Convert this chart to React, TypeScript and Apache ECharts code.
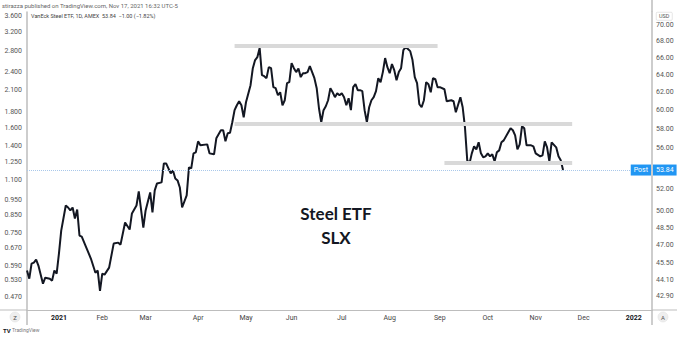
import React, { useEffect, useRef } from "react";
import * as echarts from "echarts";

// trading-day index (0 = first session of 2021) and daily close, USD
const tradingDay = [
  -14, -13, -12, -11, -10, -9, -7, -6, -4, -3, -2, -1, 0, 1, 3, 4, 5, 6, 7, 8, 9, 10, 12, 14, 16, 17, 18, 19, 20, 22,
  24, 26, 27, 29, 31, 32, 34, 35, 37, 38, 40, 41, 42, 43, 45, 46, 47, 49, 50, 51, 52, 53, 54, 56, 57, 58, 59, 60, 61,
  62, 65, 66, 68, 69, 71, 72, 73, 74, 75, 76, 77, 78, 79, 80, 81, 82, 84, 85, 86, 87, 88, 89, 90, 91, 92, 93, 94, 95,
  96, 97, 98, 99, 100, 101, 102, 103, 104, 105, 106, 107, 108, 109, 110, 111, 112, 113, 114, 115, 116, 117, 118, 119,
  120, 121, 122, 123, 124, 125, 126, 127, 128, 129, 130, 131, 132, 133, 134, 135, 136, 137, 138, 139, 140, 141, 142,
  143, 144, 145, 146, 147, 148, 149, 150, 151, 152, 153, 154, 155, 156, 157, 158, 159, 160, 161, 162, 163, 164, 165,
  166, 167, 169, 170, 172, 173, 174, 176, 177, 178, 179, 180, 181, 182, 183, 184, 185, 186, 187, 188, 189, 190, 191,
  192, 193, 194, 195, 197, 198, 199, 200, 201, 202, 203, 204, 205, 207, 208, 209, 211, 212, 213, 214, 215, 216, 218,
  219, 220, 221,
];
const closePrice = [
  44.88, 44.23, 45.45, 45.53, 45.78, 45.29, 43.83, 44.31, 44.23, 44.07, 44.88, 44.63, 46.28, 48.25, 50.49, 50.31, 50.04,
  50.31, 49.32, 50.13, 47.82, 47.73, 46.79, 45.87, 44.71, 44.88, 43.27, 44.63, 44.55, 45.12, 47.13, 47.21, 47.04, 48.96,
  48.34, 49.77, 50.49, 51.79, 48.52, 50.04, 51.7, 49.86, 51.89, 52.55, 52.65, 54.49, 54.49, 53.51, 53.8, 53.03, 52.84,
  52.17, 50.31, 51.42, 54.1, 54.0, 55.49, 55.59, 56.71, 56.3, 56.4, 55.49, 55.39, 57.02, 57.86, 57.86, 56.71, 57.54,
  57.6, 58.7, 60.0, 60.54, 60.98, 60.54, 59.24, 60.87, 62.78, 64.74, 65.7, 66.05, 67.14, 63.93, 63.81, 63.58, 64.86,
  64.74, 62.55, 62.44, 61.65, 61.98, 60.54, 61.09, 63.01, 63.12, 65.34, 64.74, 64.28, 64.7, 63.7, 64.16, 64.16, 64.28,
  64.98, 64.28, 63.58, 62.44, 60.21, 58.7, 60.0, 60.43, 61.09, 62.44, 61.98, 61.43, 61.87, 61.65, 61.87, 61.43, 60.54,
  61.31, 60.0, 62.55, 62.89, 62.21, 62.21, 62.1, 60.0, 58.7, 60.32, 61.09, 61.43, 62.1, 63.58, 63.12, 64.28, 65.93,
  64.86, 64.16, 65.22, 64.51, 63.35, 64.28, 64.74, 66.89, 67.26, 67.02, 66.77, 65.7, 63.7, 63.01, 60.65, 60.32, 61.09,
  63.12, 62.89, 61.98, 63.58, 63.47, 62.55, 62.55, 62.32, 60.98, 61.09, 60.98, 59.78, 61.43, 60.32, 58.17, 54.79, 54.49,
  55.49, 56.2, 55.89, 56.61, 55.49, 55.09, 55.19, 55.49, 55.19, 55.39, 54.69, 55.59, 55.79, 56.61, 56.81, 57.65, 58.07,
  57.86, 57.33, 55.89, 56.4, 58.28, 58.07, 56.3, 56.3, 56.2, 55.49, 55.19, 55.29, 56.71, 56.1, 54.69, 56.61, 56.1, 55.19,
  54.79, 53.84,
];

const monthStartDay = [0, 19, 38, 61, 82, 102, 124, 145, 167, 188, 209, 230, 252];
const monthLabels = ["2021", "Feb", "Mar", "Apr", "May", "Jun", "Jul", "Aug", "Sep", "Oct", "Nov", "Dec", "2022"];
const usdTicks = [70, 68, 66, 64, 62, 60, 58, 56, 52, 50, 48.5, 47, 45.5, 44.1, 42.9];
const leftTicks = [3.6, 3.2, 2.8, 2.4, 2.1, 1.8, 1.6, 1.4, 1.25, 1.1, 0.95, 0.85, 0.75, 0.67, 0.59, 0.53, 0.47];

// drawn support / resistance levels
const levelStartDay = [77, 77, 169];
const levelEndDay = [166, 225, 225];
const levelPrice = [67.45, 58.58, 54.54];

const lastClose = 53.84;
const titleLines = ["Steel ETF", "SLX"];

const FONT = "Roboto, 'Liberation Sans', sans-serif";
const AXIS_GRAY = "#bdbdbd";

export default function App() {
  const ref = useRef<HTMLDivElement>(null);

  useEffect(() => {
    if (!ref.current) return;
    const chart = echarts.init(ref.current, null, { renderer: "svg" });

    const priceData = tradingDay.map((d, i) => [d, closePrice[i]]);
    const levelLines = levelPrice.map((p, i) => [
      { coord: [levelStartDay[i], p] },
      { coord: [levelEndDay[i], p] },
    ]);

    const option: any = {
      animation: false,
      backgroundColor: "#ffffff",
      textStyle: { fontFamily: FONT },
      grid: { left: 27, right: 27, top: 12, bottom: 27, containLabel: false, outerBoundsMode: "none" },
      xAxis: {
        type: "value",
        min: -14,
        max: 260,
        axisLine: { show: true, onZero: false, lineStyle: { color: AXIS_GRAY, width: 1 } },
        axisTick: { show: false },
        splitLine: { show: false },
        axisLabel: {
          customValues: monthStartDay,
          margin: 4,
          fontSize: 7,
          color: "#444",
          fontFamily: FONT,
          formatter: (v: number) => {
            const i = monthStartDay.indexOf(v);
            const t = i >= 0 ? monthLabels[i] : "";
            return /^\d{4}$/.test(t) ? `{b|${t}}` : t;
          },
          rich: { b: { fontWeight: "bold", color: "#131722", fontSize: 7, fontFamily: FONT } },
        },
      },
      yAxis: [
        {
          type: "log",
          position: "right",
          min: 41.79,
          max: 71.67,
          axisLine: { show: true, onZero: false, lineStyle: { color: AXIS_GRAY, width: 1.5 } },
          axisTick: { show: false },
          splitLine: { show: false },
          axisLabel: {
            customValues: usdTicks,
            margin: 4,
            fontSize: 7,
            color: "#555",
            fontFamily: FONT,
            formatter: (v: number) => v.toFixed(2),
          },
        },
        {
          type: "log",
          position: "left",
          min: 0.4278,
          max: 3.706,
          axisLine: { show: true, onZero: false, lineStyle: { color: AXIS_GRAY, width: 1.5 } },
          axisTick: { show: false },
          splitLine: { show: false },
          axisLabel: {
            customValues: leftTicks,
            margin: 5,
            fontSize: 7,
            color: "#555",
            fontFamily: FONT,
            formatter: (v: number) => v.toFixed(3),
          },
        },
      ],
      series: [
        {
          name: "levels",
          type: "line",
          yAxisIndex: 0,
          data: [],
          z: 1,
          silent: true,
          markLine: {
            silent: true,
            symbol: ["none", "none"],
            label: { show: false },
            lineStyle: { color: "#d9d9d9", width: 4, type: "solid" },
            data: levelLines,
          },
        },
        {
          name: "SLX",
          type: "line",
          yAxisIndex: 0,
          data: priceData,
          showSymbol: false,
          symbol: "none",
          z: 3,
          lineStyle: { color: "#131722", width: 2 },
          markLine: {
            silent: true,
            symbol: ["none", "none"],
            lineStyle: { color: "#a9c8ea", width: 1, type: "dotted" },
            data: [
              {
                yAxis: lastClose,
                label: {
                  show: true,
                  position: "end",
                  distance: 1,
                  formatter: () => lastClose.toFixed(2),
                  backgroundColor: "#2196f3",
                  color: "#ffffff",
                  fontSize: 7,
                  fontFamily: FONT,
                  padding: [2, 3, 2, 3],
                },
              },
              {
                yAxis: lastClose,
                label: {
                  show: true,
                  position: "insideEnd",
                  distance: 1,
                  formatter: () => "Post",
                  backgroundColor: "#2196f3",
                  color: "#ffffff",
                  fontSize: 7,
                  fontFamily: FONT,
                  padding: [2, 3, 2, 3],
                },
              },
            ],
          },
        },
      ],
      graphic: [
        // panel separators outside the grid
        { type: "line", silent: true, shape: { x1: 27, y1: 310, x2: 27, y2: 325 }, style: { stroke: AXIS_GRAY, lineWidth: 1.5 } },
        { type: "line", silent: true, shape: { x1: 652, y1: 0, x2: 652, y2: 12 }, style: { stroke: AXIS_GRAY, lineWidth: 1.5 } },
        { type: "line", silent: true, shape: { x1: 652, y1: 310, x2: 652, y2: 325 }, style: { stroke: AXIS_GRAY, lineWidth: 1.5 } },
        { type: "line", silent: true, shape: { x1: 0, y1: 310, x2: 27, y2: 310 }, style: { stroke: AXIS_GRAY, lineWidth: 1 } },
        { type: "line", silent: true, shape: { x1: 652, y1: 310, x2: 677, y2: 310 }, style: { stroke: AXIS_GRAY, lineWidth: 1 } },
        // header
        {
          type: "text",
          left: 2,
          top: 2,
          style: { text: "stirazza published on TradingView.com, Nov 17, 2021 16:32 UTC-5", fontSize: 6, fill: "#666", fontFamily: FONT },
        },
        {
          type: "text",
          left: 31,
          top: 13,
          style: { text: "VanEck Steel ETF, 1D, AMEX  53.84  −1.00 (−1.82%)", fontSize: 5.5, fill: "#444", fontFamily: FONT },
        },
        // USD unit box
        {
          type: "group",
          left: 656,
          top: 12,
          children: [
            { type: "rect", shape: { x: 0, y: 0, width: 16, height: 8, r: 1 }, style: { fill: "#fff", stroke: "#ccc", lineWidth: 0.5 } },
            { type: "text", x: 8, y: 4, style: { text: "USD", fontSize: 5.5, fill: "#555", align: "center", verticalAlign: "middle", fontFamily: FONT } },
          ],
        },
        // central annotation
        {
          type: "text",
          x: 336,
          y: 213,
          style: { text: titleLines[0], fontSize: 17, fontWeight: "bold", fill: "#131722", align: "center", verticalAlign: "middle", fontFamily: "Lato, 'Open Sans', sans-serif" },
        },
        {
          type: "text",
          x: 336,
          y: 237,
          style: { text: titleLines[1], fontSize: 17, fontWeight: "bold", fill: "#131722", align: "center", verticalAlign: "middle", fontFamily: "Lato, 'Open Sans', sans-serif" },
        },
        // scale buttons
        { type: "circle", shape: { cx: 15, cy: 317, r: 5 }, style: { fill: "#eeeeee", stroke: "#dddddd", lineWidth: 0.5 } },
        { type: "text", x: 15, y: 317, style: { text: "Z", fontSize: 6, fill: "#555", align: "center", verticalAlign: "middle", fontFamily: FONT } },
        { type: "circle", shape: { cx: 663, cy: 317, r: 5 }, style: { fill: "#eeeeee", stroke: "#dddddd", lineWidth: 0.5 } },
        { type: "text", x: 663, y: 317, style: { text: "A", fontSize: 6, fill: "#555", align: "center", verticalAlign: "middle", fontFamily: FONT } },
        // TradingView mark
        { type: "text", left: 3, top: 327, style: { text: "TV", fontSize: 6, fontWeight: "bold", fill: "#131722", fontFamily: FONT } },
        { type: "text", left: 12, top: 327.5, style: { text: "TradingView", fontSize: 5, fill: "#777", fontFamily: FONT } },
      ],
    };

    chart.setOption(option);
    return () => chart.dispose();
  }, []);

  return (
    <div
      ref={ref}
      style={{ position: "absolute", left: 0, top: 0, width: 679, height: 337, background: "#fff" }}
    />
  );
}
